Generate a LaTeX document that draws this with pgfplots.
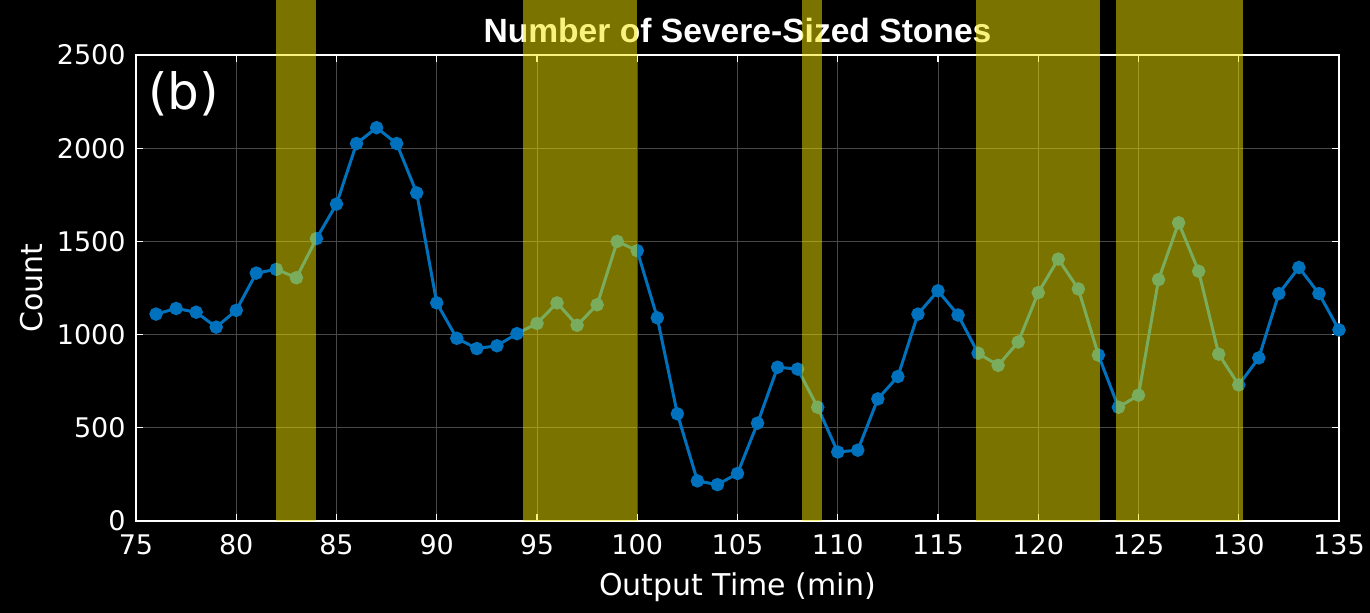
\documentclass[border=0pt]{standalone}
\usepackage{pgfplots}
\pgfplotsset{compat=1.18}
\usepackage{fontspec}
\setmainfont{DejaVu Sans}
\newfontfamily\titlefont{Liberation Sans}
\definecolor{mblue}{RGB}{0,114,189}
\definecolor{band}{RGB}{245,230,0}
\definecolor{gridgray}{RGB}{72,72,72}
\begin{document}
\begin{tikzpicture}
% black page, 1 px of the reference = 0.5pt
\fill[black] (-68pt,-46pt) rectangle (617pt,260.5pt);
\begin{axis}[at={(0,0)},anchor=south west,
  scale only axis,width=601.5pt,height=233pt,
  xmin=75,xmax=135,ymin=0,ymax=2500,
  xtick={75,80,...,135},ytick={0,500,...,2500},
  /pgf/number format/assume math mode=true,
  /pgf/number format/1000 sep={},
  tick label style={font=\fontsize{13.5}{15}\selectfont,white,inner sep=0pt},
  xticklabel style={yshift=-6.5pt},
  yticklabel style={xshift=-5pt},
  tick align=inside,major tick length=3.5pt,
  tick style={white,line width=0.6pt},
  axis line style={white,line width=0.6pt},
  grid=major,major grid style={gridgray,line width=0.5pt},
  xlabel={Output Time (min)},ylabel={Count},
  label style={font=\fontsize{15}{17}\selectfont,white},
  xlabel style={yshift=-5.5pt},
  ylabel style={yshift=3.5pt},
  title={Number of Severe-Sized Stones},
  title style={font=\titlefont\bfseries\fontsize{16.8}{18}\selectfont,white,
    at={(axis description cs:0.5,1)},anchor=base,yshift=0pt}]
\addplot[mblue,line width=1.5pt,mark=*,mark size=2.6pt] coordinates {
(76,1110)(77,1140)(78,1120)(79,1040)(80,1130)(81,1330)(82,1350)(83,1305)
(84,1515)(85,1700)(86,2025)(87,2110)(88,2025)(89,1760)(90,1170)(91,980)
(92,925)(93,940)(94,1005)(95,1060)(96,1170)(97,1050)(98,1160)(99,1500)
(100,1450)(101,1090)(102,575)(103,215)(104,195)(105,255)(106,525)(107,825)
(108,815)(109,610)(110,370)(111,380)(112,655)(113,775)(114,1110)(115,1235)
(116,1105)(117,900)(118,835)(119,960)(120,1225)(121,1405)(122,1245)(123,890)
(124,610)(125,675)(126,1295)(127,1600)(128,1340)(129,895)(130,730)(131,875)
(132,1220)(133,1360)(134,1220)(135,1025)};
\node[white,anchor=west,inner sep=0pt,font=\fontsize{25}{28}\selectfont] at (axis cs:75.6,2290) {(b)};
\end{axis}
% translucent yellow bands, drawn over line, frame and title
\begin{axis}[at={(0,0)},anchor=south west,
  scale only axis,width=601.5pt,height=233pt,
  xmin=75,xmax=135,ymin=0,ymax=2500,hide axis,clip=false]
\addplot[draw=none,fill=band,fill opacity=0.5] coordinates {(82,0)(82,2800)(84,2800)(84,0)} -- cycle;
\addplot[draw=none,fill=band,fill opacity=0.5] coordinates {(94.3,0)(94.3,2800)(100,2800)(100,0)} -- cycle;
\addplot[draw=none,fill=band,fill opacity=0.5] coordinates {(108.2,0)(108.2,2800)(109.2,2800)(109.2,0)} -- cycle;
\addplot[draw=none,fill=band,fill opacity=0.5] coordinates {(116.9,0)(116.9,2800)(123.1,2800)(123.1,0)} -- cycle;
\addplot[draw=none,fill=band,fill opacity=0.5] coordinates {(123.9,0)(123.9,2800)(130.2,2800)(130.2,0)} -- cycle;
\end{axis}
\pgfresetboundingbox
\path (-68pt,-46pt) rectangle (617pt,260.5pt);
\end{tikzpicture}
\end{document}
